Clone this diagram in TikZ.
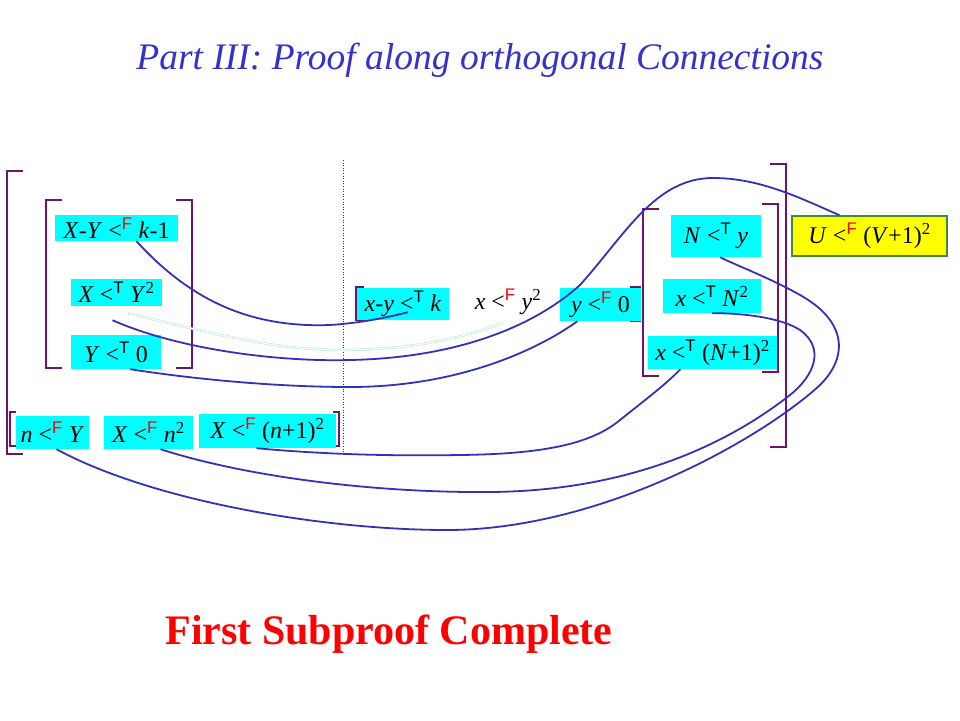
\documentclass[tikz,border=0pt]{standalone}
\usepackage{fontspec}
\setmainfont{Liberation Serif}
\setsansfont{Liberation Sans}
\usepackage{xcolor}
\usepackage{tikz}
\definecolor{titleblue}{RGB}{51, 51, 204}
\definecolor{linkblue}{RGB}{50, 50, 185}
\definecolor{brkpurple}{RGB}{110, 20, 110}
\definecolor{paleline}{RGB}{175, 225, 215}
\definecolor{litcyan}{RGB}{0, 255, 255}
\definecolor{uyellow}{RGB}{255, 255, 0}
\definecolor{ugreen}{RGB}{60, 140, 60}
\definecolor{donered}{RGB}{255, 0, 0}

\newcommand{\ltF}{<\textsuperscript{\sffamily\color{donered}F}}
\newcommand{\ltT}{<\textsuperscript{\sffamily T}}
% bracket: x, y top, y bottom, tick length (signed)
\newcommand{\brk}[4]{\draw[brk] (#1+#4,#2) -- (#1,#2) -- (#1,#3) -- (#1+#4,#3);}

\tikzset{
  lit/.style={fill=litcyan, inner sep=0pt, font=\fontsize{24}{28}\selectfont},
  link/.style={draw=linkblue, line width=1.8pt},
  brk/.style={draw=brkpurple, line width=1.2pt}
}

\begin{document}
\begin{tikzpicture}[x=1pt,y=-1pt]
            \useasboundingbox (0,0) rectangle (960,720);

            % Title
            \node[titleblue, font=\fontsize{37.5}{42}\selectfont\itshape] (title) at (480,60)
              {Part III: Proof along orthogonal Connections};

            % Brackets
            \brk{7}{171}{454}{16}
            \brk{46}{200}{368}{16}
            \brk{192}{200}{368}{-16}
            \brk{10}{412}{446}{6}
            \brk{339}{412}{446}{-6}
            \brk{356}{287}{320}{8}
            \brk{640}{287}{321}{-10}
            \brk{643}{209}{376}{16}
            \brk{778}{204}{372}{-16}
            \brk{786}{164}{447}{-16}
            \draw[brkpurple, dotted, line width=0.6pt] (343,160) -- (343,455);

            % Left literals
            \node[lit, minimum width=123pt, minimum height=26pt] (xyk1) at (116.5,228)
              {\textit{X}-\textit{Y} \ltF{} \textit{k}-1};
            \node[lit, minimum width=91pt, minimum height=27pt] (xy2) at (116.5,292.5)
              {\textit{X} \ltT{} \textit{Y}\textsuperscript{2}};
            \node[lit, minimum width=90pt, minimum height=34pt] (y0) at (116,352)
              {\textit{Y} \ltT{} 0};
            \node[lit, minimum width=73pt, minimum height=33pt] (ny) at (52.5,432.5)
              {\textit{n} \ltF{} \textit{Y}};
            \node[lit, minimum width=89pt, minimum height=33pt] (xn2) at (148.5,432.5)
              {\textit{X} \ltF{} \textit{n}\textsuperscript{2}};
            \node[lit, minimum width=137pt, minimum height=34pt] (xn12) at (267.5,431)
              {\textit{X} \ltF{} (\textit{n}+1)\textsuperscript{2}};

            % Middle literals
            \node[lit, minimum width=92pt, minimum height=32pt] (sxyk) at (403,304)
              {\textit{x}-\textit{y} \ltT{} \textit{k}};
            \node[inner sep=0pt, font=\fontsize{24}{28}\selectfont] (sxy2) at (508,302)
              {\textit{x} \ltF{} \textit{y}\textsuperscript{2}};
            \node[lit, minimum width=81pt, minimum height=33pt] (sy0) at (600.5,304.5)
              {\textit{y} \ltF{} 0};

            % Right literals
            \node[lit, minimum width=90pt, minimum height=42pt] (sny) at (716,236)
              {\textit{N} \ltT{} \textit{y}};
            \node[lit, minimum width=98pt, minimum height=34pt] (sxn2) at (712,296)
              {\textit{x} \ltT{} \textit{N}\textsuperscript{2}};
            \node[lit, minimum width=129pt, minimum height=33pt] (sxn12) at (712.5,352.5)
              {\textit{x} \ltT{} (\textit{N}+1)\textsuperscript{2}};
            \node[lit, fill=uyellow, draw=ugreen, line width=1.6pt,
                  minimum width=155pt, minimum height=40pt] (uv) at (869.5,236)
              {\textit{U} \ltF{} (\textit{V}+1)\textsuperscript{2}};

            % Connections
            \draw[link] ([xshift=20pt]xyk1.south) .. controls (190,300) and (250,328) .. (330,325)
              .. controls (360,323) and (385,318) .. ([xshift=5pt,yshift=8pt]sxyk.south);
            \draw[link] ([xshift=-4pt,yshift=-14pt]xy2.south) .. controls (180,350) and (280,362) .. (350,360)
              .. controls (450,358) and (530,330) .. (580,285)
              .. controls (625,235) and (655,178) .. (713,178)
              .. controls (760,178) and (800,198) .. ([xshift=-30pt]uv.north);
            \draw[draw=paleline, double=white, line width=0.5pt, double distance=1.2pt]
              ([xshift=11pt,yshift=-7pt]xy2.south) .. controls (200,330) and (270,350) .. (340,350)
              .. controls (420,350) and (470,335) .. ([xshift=-5pt,yshift=-8pt]sxy2.south);
            \draw[link] ([xshift=14pt]y0.south) .. controls (200,380) and (280,387) .. (350,387)
              .. controls (450,387) and (530,355) .. ([xshift=-23pt]sy0.south);
            \draw[link] ([xshift=-11pt]xn12.south) .. controls (330,455) and (400,456) .. (460,455)
              .. controls (540,454) and (590,445) .. (620,420)
              .. controls (645,400) and (665,385) .. ([xshift=-32pt]sxn12.south);
            \draw[link] ([xshift=12pt]xn2.south) .. controls (250,478) and (380,493) .. (490,492)
              .. controls (620,491) and (720,450) .. (790,395)
              .. controls (815,375) and (825,348) .. (800,330)
              .. controls (780,317) and (740,313) .. (sxn2.south);
            \draw[link] ([xshift=4pt]ny.south) .. controls (150,500) and (320,530) .. (447,530)
              .. controls (600,530) and (760,440) .. (820,385)
              .. controls (850,355) and (845,320) .. (800,295)
              .. controls (770,278) and (740,267) .. ([xshift=4pt]sny.south);

            % Result
            \node[donered, font=\fontsize{42}{46}\selectfont\bfseries] (done) at (389,634)
              {First Subproof Complete};

\end{tikzpicture}
\end{document}
